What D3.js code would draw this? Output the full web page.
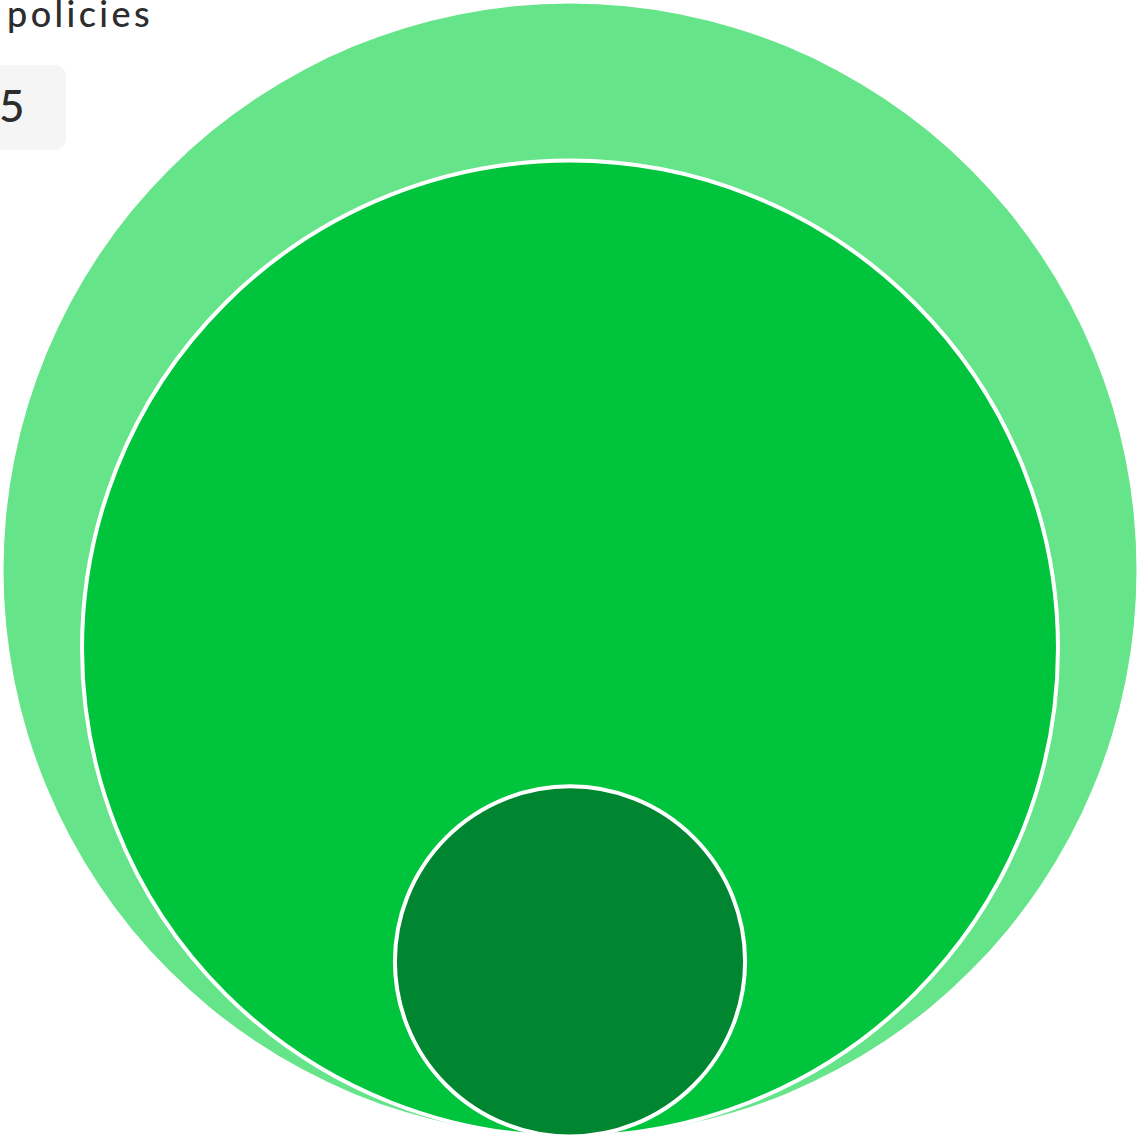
<!DOCTYPE html>
<html>
<head>
<meta charset="utf-8">
<script src="https://cdn.jsdelivr.net/npm/d3@7"></script>
<style>
  body { margin: 0; background: #fff; }
  svg { display: block; }
</style>
</head>
<body>
<svg id="chart" width="1137" height="1137"></svg>
<script>
// funnel stages, nested circles (area ~ value)
const stages = ["All", "Matched", "Flagged"];
const values = [100, 74.2, 9.55];
const colors = ["#65e489", "#00c43c", "#008630"];

const label = "policies";
const badgeValue = "5";

const width = 1137, height = 1137;
const svg = d3.select("#chart");

const cx = 570, bottom = 1136.5;

var r = d3.scaleSqrt()
    .domain([0, d3.max(values)])
    .range([0, 566.5]);

var data = stages.map((s, i) => ({ name: s, value: values[i], color: colors[i] }));

svg.append("g")
  .selectAll("circle")
  .data(data)
  .join("circle")
    .attr("cx", cx)
    .attr("cy", d => bottom - r(d.value))
    .attr("r", d => r(d.value))
    .attr("fill", d => d.color)
    .attr("stroke", "#fff")
    .attr("stroke-width", (d, i) => i == 0 ? 0 : 4);

// header text, partly cut off at the top like the source
svg.append("text")
    .attr("x", 7)
    .attr("y", 27)
    .attr("fill", "#2d2d2d")
    .style("font-family", "Lato, sans-serif")
    .style("font-size", "36px")
    .style("font-weight", 500)
    .style("letter-spacing", "3.4px")
    .text(label);

svg.append("rect")
    .attr("x", -20)
    .attr("y", 65)
    .attr("width", 86)
    .attr("height", 85)
    .attr("rx", 12)
    .attr("fill", "#f5f5f5");

svg.append("text")
    .attr("x", -1)
    .attr("y", 122)
    .attr("fill", "#2d2d2d")
    .style("font-family", "Lato, sans-serif")
    .style("font-size", "44px")
    .style("font-weight", 500)
    .text(badgeValue);
</script>
</body>
</html>
